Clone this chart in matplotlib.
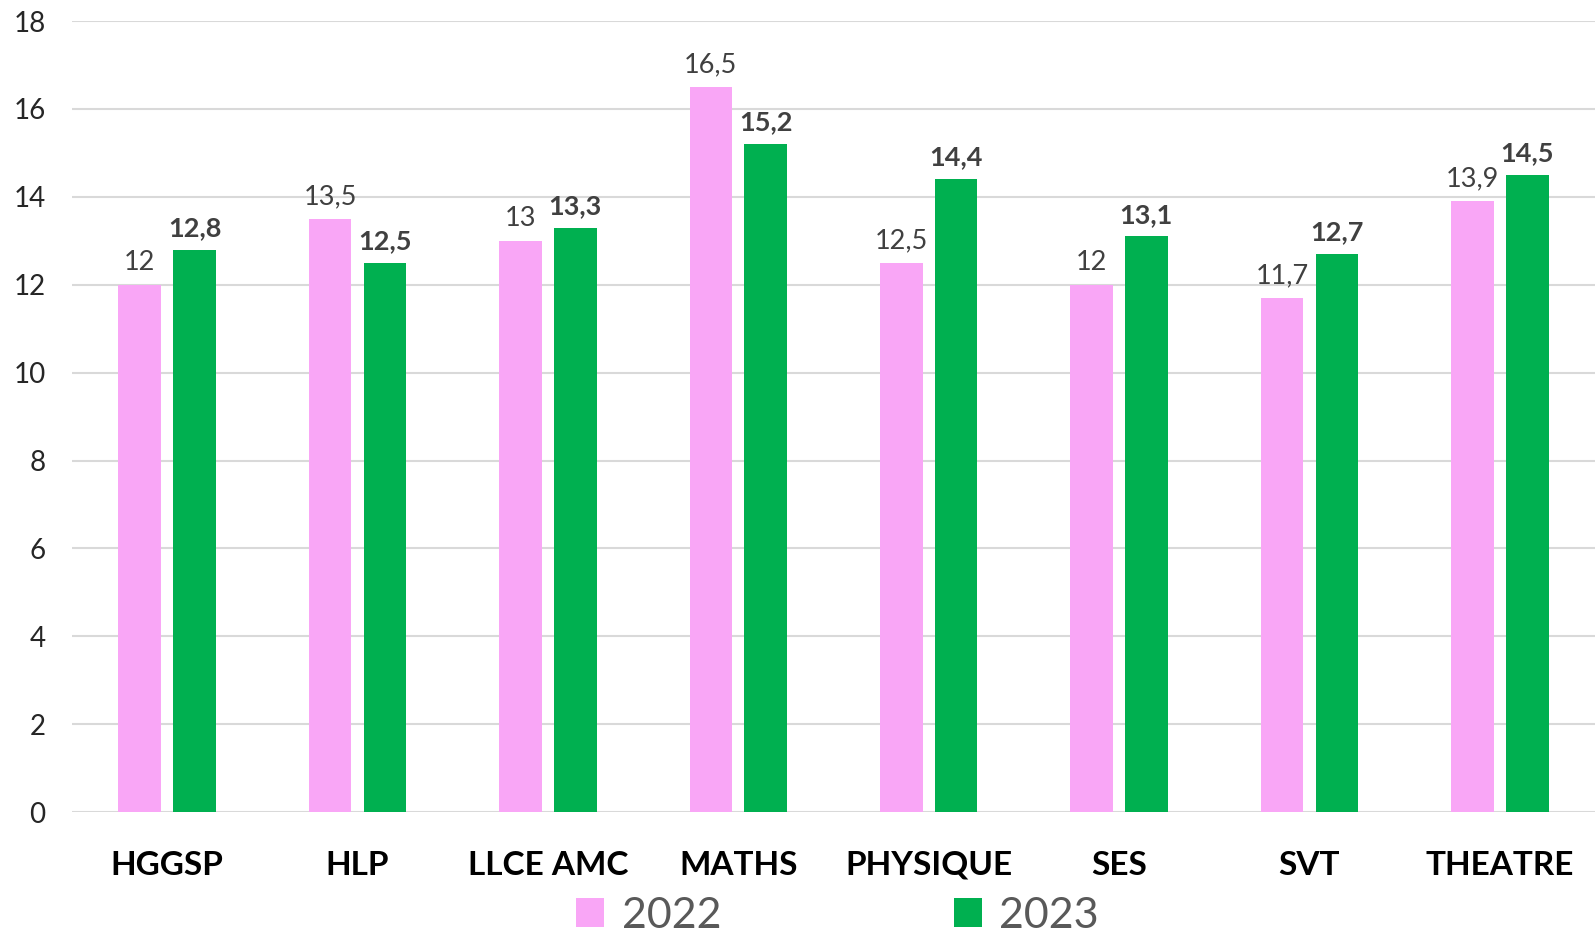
import matplotlib.pyplot as plt
import numpy as np

plt.rcParams['font.family'] = ['Lato', 'DejaVu Sans']

matieres = ["HGGSP", "HLP", "LLCE AMC", "MATHS", "PHYSIQUE", "SES", "SVT", "THEATRE"]
notes_2022 = [12, 13.5, 13, 16.5, 12.5, 12, 11.7, 13.9]
notes_2023 = [12.8, 12.5, 13.3, 15.2, 14.4, 13.1, 12.7, 14.5]
annees = ["2022", "2023"]

rose = "#F9A6F6"
vert = "#00B050"

fig = plt.figure(figsize=(15.95, 9.41), dpi=100)
ax = fig.add_axes([0.0451, 0.137, 0.9549, 0.8406])

x = np.arange(len(matieres))
w = 0.224
b1 = ax.bar(x - 0.144, notes_2022, w, color=rose, label=annees[0], zorder=3)
b2 = ax.bar(x + 0.144, notes_2023, w, color=vert, label=annees[1], zorder=3)

def fmt(v):
    return ("%g" % v).replace(".", ",")

for r, v in zip(b1, notes_2022):
    ax.annotate(fmt(v), (r.get_x() + r.get_width() / 2, v), xytext=(0, 7),
                textcoords="offset points", ha="center", va="bottom",
                fontsize=19.5, color="#404040")
for r, v in zip(b2, notes_2023):
    ax.annotate(fmt(v), (r.get_x() + r.get_width() / 2, v), xytext=(0, 7),
                textcoords="offset points", ha="center", va="bottom",
                fontsize=19.5, color="#404040", fontweight="bold")

ax.set_xlim(-0.5, len(matieres) - 0.5)
ax.set_ylim(0, 18)
ax.set_yticks(range(0, 19, 2))
ax.set_xticks(x)
ax.set_xticklabels(matieres, fontsize=24, fontweight="bold", color="black")
ax.tick_params(axis="x", length=0, pad=28)
ax.tick_params(axis="y", length=0, pad=19, labelsize=20, labelcolor="#262626")
ax.yaxis.grid(True, color="#d9d9d9", linewidth=1.5, zorder=0)
for s in ax.spines.values():
    s.set_visible(False)

leg = fig.legend(handles=[b1, b2], loc="center", bbox_to_anchor=(0.525, 0.027),
                 ncol=2, frameon=False, fontsize=31, handlelength=0.65,
                 handleheight=0.65, handletextpad=0.4, columnspacing=5.4,
                 borderpad=0.1)
for t in leg.get_texts():
    t.set_color("#595959")

fig.savefig("out.png", dpi=100)
